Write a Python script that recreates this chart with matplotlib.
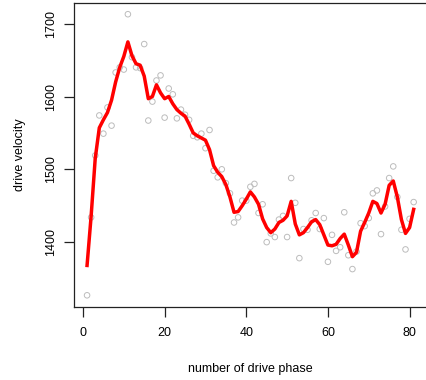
import matplotlib
matplotlib.use("Agg")
from matplotlib import pyplot as plt

plt.rcParams['font.family'] = ['Liberation Sans', 'DejaVu Sans']

# drive velocity per drive phase
phase = list(range(1, 82))
velocity = [1327, 1434, 1519, 1574, 1549, 1585, 1560, 1633, 1640, 1637,
            1713, 1654, 1640, 1639, 1672, 1567, 1593, 1622, 1629, 1571,
            1611, 1603, 1570, 1582, 1575, 1568, 1546, 1544, 1549, 1529,
            1554, 1498, 1489, 1500, 1481, 1467, 1427, 1434, 1457, 1457,
            1476, 1480, 1440, 1452, 1400, 1412, 1407, 1431, 1436, 1407,
            1488, 1454, 1378, 1418, 1417, 1430, 1440, 1418, 1433, 1373,
            1410, 1388, 1393, 1441, 1382, 1363, 1387, 1426, 1422, 1433,
            1467, 1471, 1411, 1449, 1488, 1504, 1462, 1417, 1390, 1432,
            1455]
# smoothed velocity
smooth = [1368, 1436, 1515, 1557, 1568, 1578, 1595, 1620, 1640, 1655,
          1675, 1656, 1645, 1643, 1628, 1597, 1600, 1616, 1605, 1597,
          1600, 1590, 1582, 1577, 1573, 1562, 1550, 1546, 1543, 1540,
          1527, 1505, 1496, 1490, 1479, 1462, 1441, 1442, 1450, 1459,
          1469, 1462, 1452, 1432, 1420, 1413, 1418, 1427, 1430, 1436,
          1456, 1425, 1410, 1413, 1420, 1428, 1431, 1424, 1410, 1396,
          1395, 1397, 1405, 1411, 1396, 1380, 1386, 1415, 1427, 1440,
          1456, 1453, 1440, 1452, 1478, 1484, 1462, 1431, 1412, 1420,
          1445]

fig = plt.figure(figsize=(4.26, 3.8), dpi=100)
ax = fig.add_axes([0.1737, 0.1934, 0.828, 0.7987])

ax.scatter(phase, velocity, s=16, facecolors='none', edgecolors='#bcbcbc', linewidths=0.7)
ax.plot(phase, smooth, color='red', linewidth=2.5)

ax.set_xlim(-2.2, 84.2)
ax.set_ylim(1311.6, 1728.4)
ax.set_xticks([0, 20, 40, 60, 80])
ax.set_yticks([1400, 1500, 1600, 1700])
ax.tick_params(direction='out', length=7, width=0.9, labelsize=9, color='#222222')
ax.tick_params(axis='x', pad=8)
ax.tick_params(axis='y', pad=5)
for lab in ax.get_yticklabels():
    lab.set_rotation(90)
    lab.set_va('center')
for sp in ax.spines.values():
    sp.set_linewidth(0.9)
    sp.set_color('#222222')

ax.set_xlabel('number of drive phase', fontsize=9, labelpad=17)
ax.set_ylabel('drive velocity', fontsize=9, labelpad=14)

fig.savefig('out.png', dpi=100)
